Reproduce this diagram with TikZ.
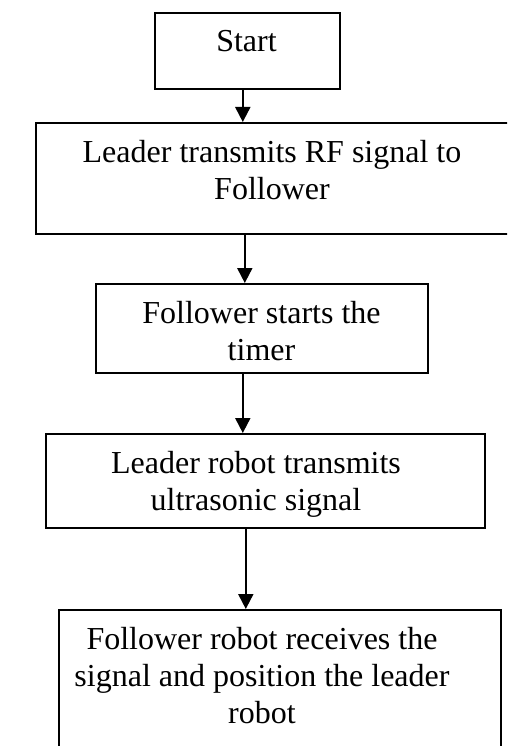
\documentclass[tikz,border=0pt]{standalone}
\usepackage{fontspec}
\setmainfont{Liberation Serif}
\usetikzlibrary{arrows.meta}
\begin{document}
\begin{tikzpicture}[x=1pt,y=-1pt,
  box/.style={draw, line width=1.6pt, rectangle, inner sep=0pt, anchor=north west},
  lbl/.style={anchor=north, inner sep=0pt, align=center, font=\fontsize{32}{37}\selectfont},
  arr/.style={line width=2pt, -{Triangle[width=15pt,length=15pt]}}]
\clip (0,0) rectangle (507,746);
% process boxes
\node[box, minimum width=185pt, minimum height=76pt]  (b1) at (154,12)  {};
\node[box, minimum width=477pt, minimum height=111pt] (b2) at (35,122)  {};
\node[box, minimum width=332pt, minimum height=89pt]  (b3) at (95,283)  {};
\node[box, minimum width=439pt, minimum height=94pt]  (b4) at (45,433)  {};
\node[box, minimum width=442pt, minimum height=160pt] (b5) at (58,609)  {};
% box texts
\node[lbl] (t1) at (246.5,30) {Start};
\node[lbl] (t2) at (272,140) {Leader transmits RF signal to\\Follower};
\node[lbl] (t3) at (261.5,301) {Follower starts the\\timer};
\node[lbl] (t4) at (256,451) {Leader robot transmits\\ultrasonic signal};
\node[lbl] (t5) at (262,627) {Follower robot receives the\\signal and position the leader\\robot};
% flow arrows
\draw[arr] ([xshift=-4.5pt]b1.south) -- ([xshift=-4.5pt]b1.south |- b2.north);
\draw[arr] ([xshift=-29.5pt]b2.south) -- ([xshift=-29.5pt]b2.south |- b3.north);
\draw[arr] ([xshift=-19pt]b3.south) -- ([xshift=-19pt]b3.south |- b4.north);
\draw[arr] ([xshift=-19.5pt]b4.south) -- ([xshift=-19.5pt]b4.south |- b5.north);
\end{tikzpicture}
\end{document}
